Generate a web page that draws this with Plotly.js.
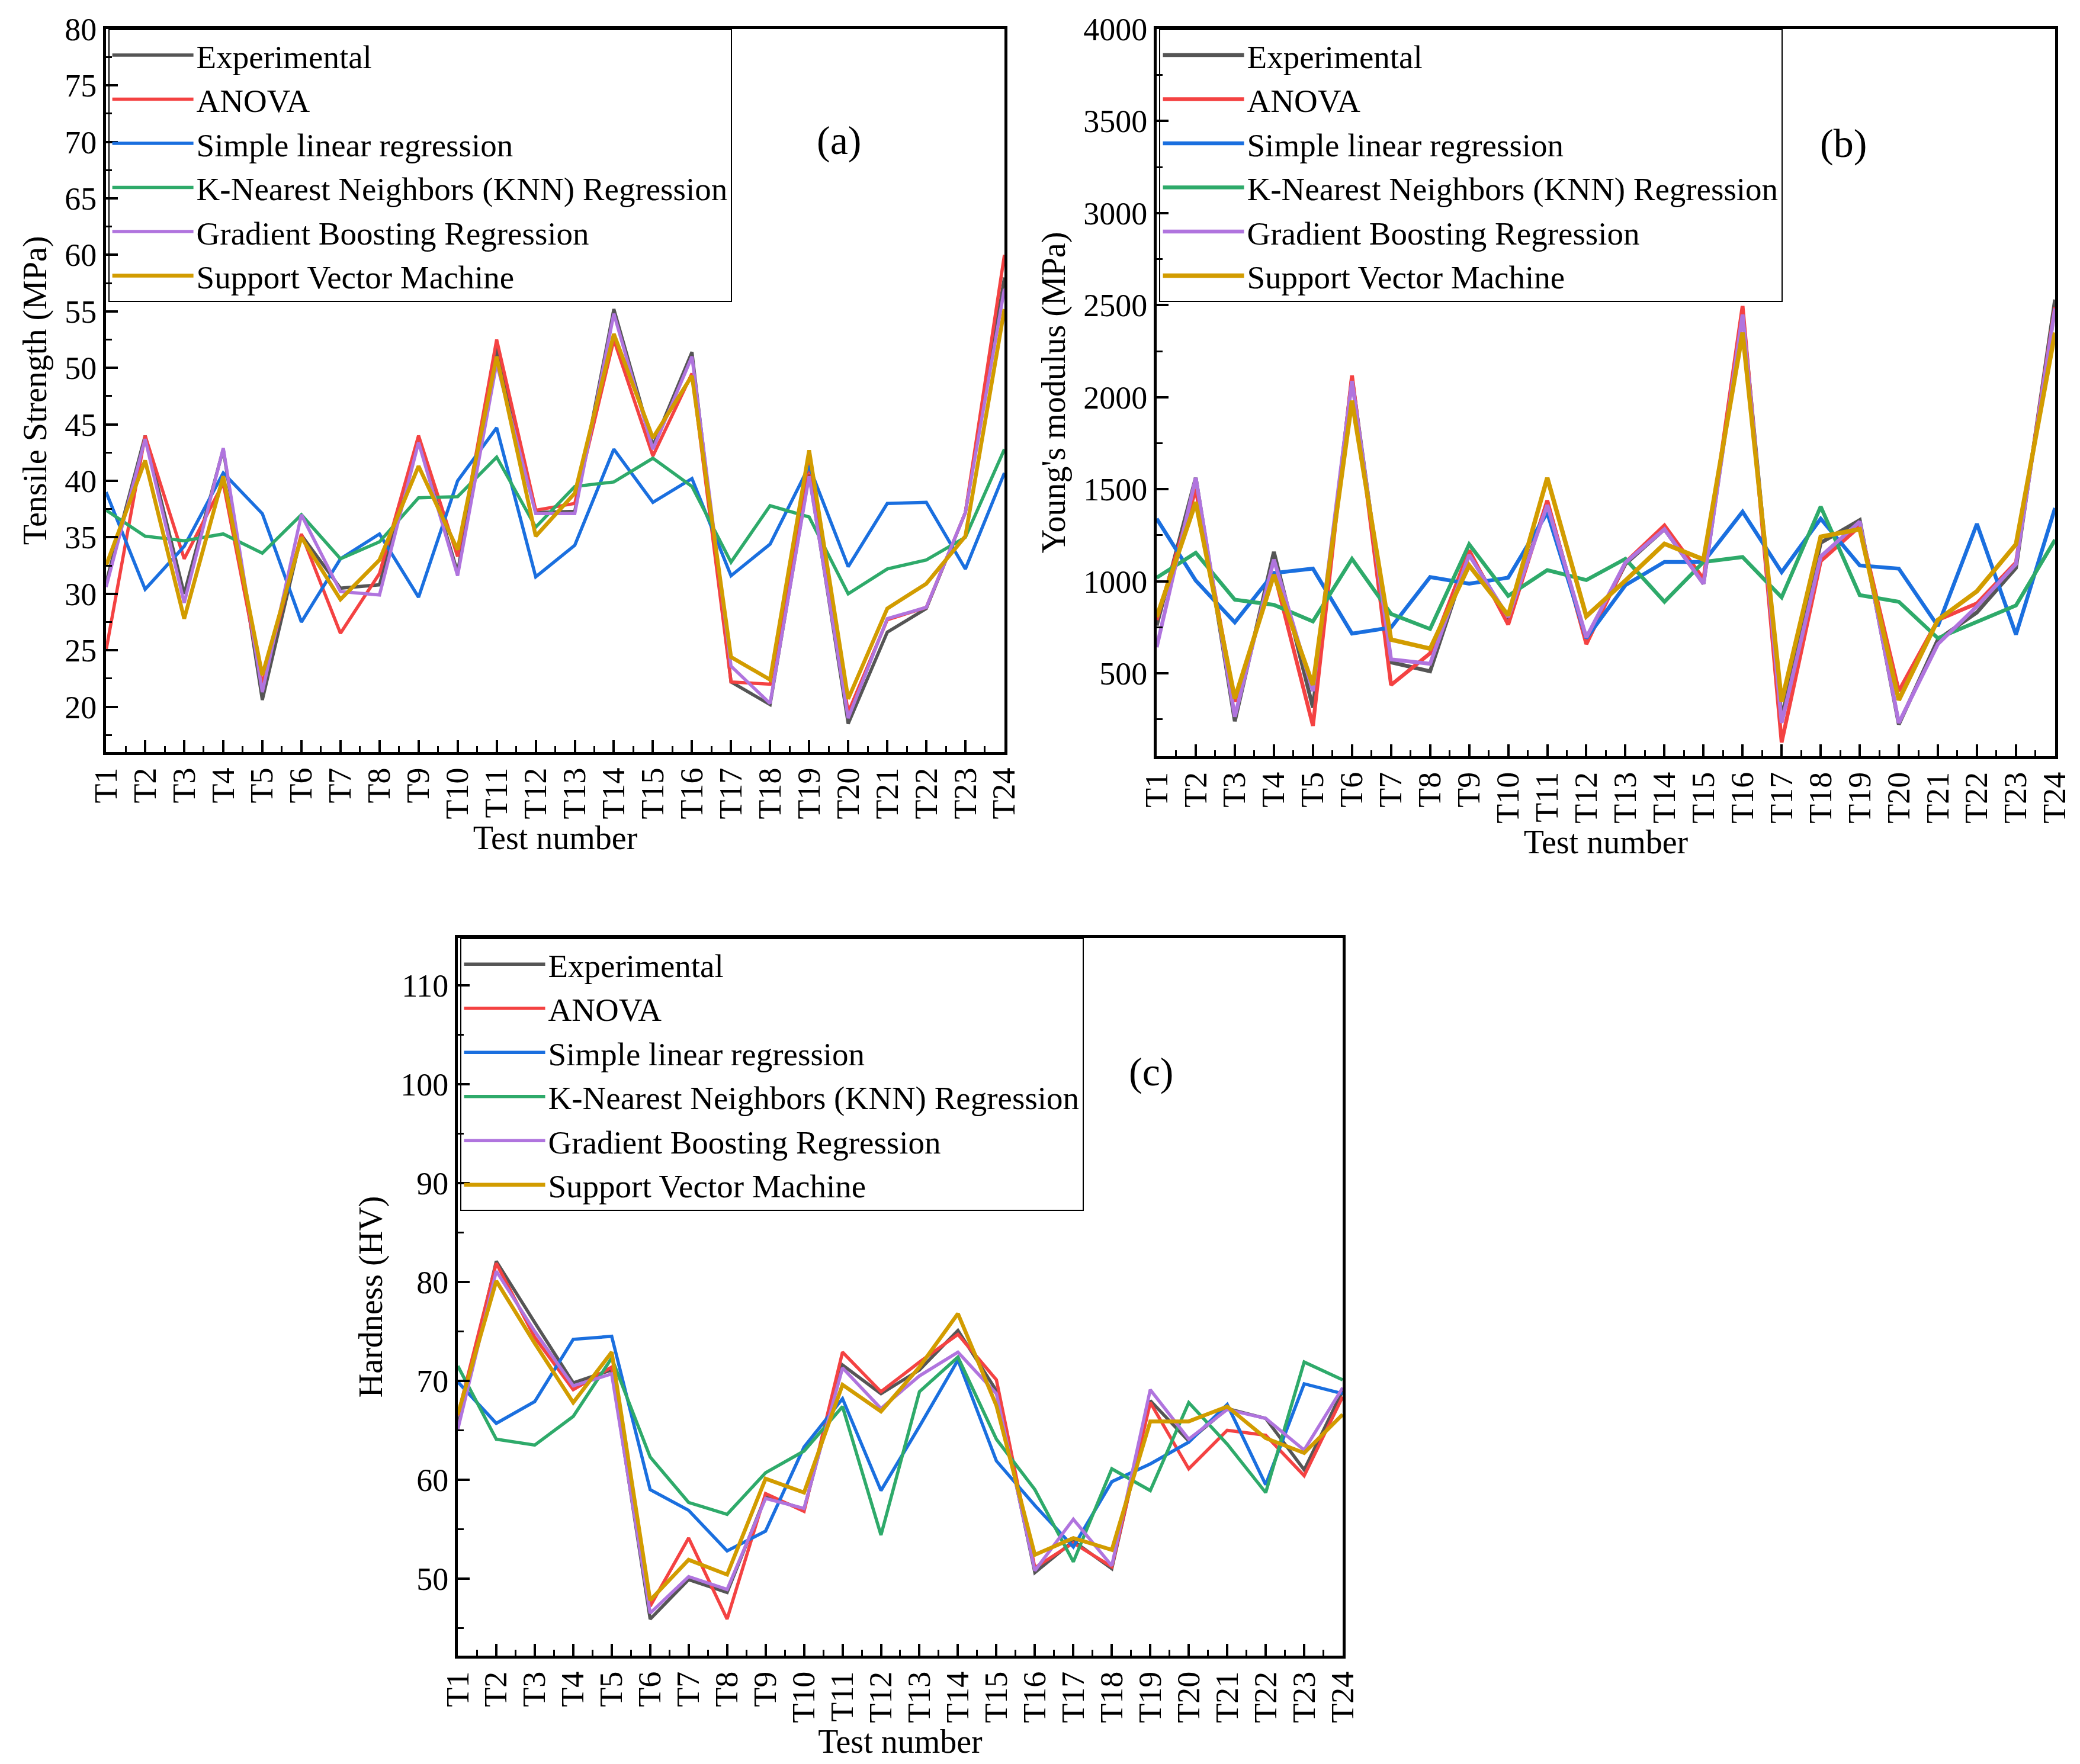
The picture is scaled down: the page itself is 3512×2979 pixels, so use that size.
<!DOCTYPE html>
<html>
<head>
<meta charset="utf-8">
<script src="https://cdn.plot.ly/plotly-3.0.1.min.js"></script>
<style>
  html, body { margin: 0; padding: 0; background: #fff; }
  #chart { width: 3512px; height: 2979px; }
</style>
</head>
<body>
<div id="chart"></div>
<script>
// test labels T1..T24
var tests = ['T1','T2','T3','T4','T5','T6','T7','T8','T9','T10','T11','T12',
             'T13','T14','T15','T16','T17','T18','T19','T20','T21','T22','T23','T24'];

var seriesNames = ['Experimental', 'ANOVA', 'Simple linear regression',
  'K-Nearest Neighbors (KNN) Regression', 'Gradient Boosting Regression', 'Support Vector Machine'];

// (a) tensile strength, MPa
var tsExp    = [31, 44, 30, 42.8, 20.6, 35.2, 30.5, 30.8, 43.5, 31.9, 51.8, 37.2, 37.3, 55.2, 43.1, 51.4, 22.2, 20.2, 40.6, 18.5, 26.6, 28.7, 37.2, 58];
var tsAnova  = [25, 44, 33.1, 39.8, 22, 35.3, 26.5, 31.8, 44, 33.3, 52.5, 37.4, 38, 52.5, 42.2, 49.5, 22.2, 22, 41.6, 19.5, 27.7, 28.8, 37.2, 60];
var tsLinear = [39, 30.4, 34.2, 40.7, 37.1, 27.5, 33.1, 35.3, 29.7, 40, 44.7, 31.5, 34.3, 42.8, 38.1, 40.2, 31.6, 34.4, 41.3, 32.4, 38, 38.1, 32.2, 40.7];
var tsKnn    = [37.4, 35.1, 34.7, 35.3, 33.6, 37, 33.1, 34.6, 38.5, 38.6, 42.1, 35.9, 39.5, 39.9, 42, 39.5, 32.8, 37.8, 36.8, 30, 32.2, 33, 35, 42.8];
var tsGbr    = [30.6, 43.7, 29.2, 42.9, 21.3, 37, 30.2, 29.9, 43.4, 31.6, 50.4, 37.1, 37.1, 54.8, 42.8, 51, 23.6, 20.3, 40.4, 19, 27.8, 28.8, 37.2, 57];
var tsSvm    = [32.5, 41.8, 27.8, 40.4, 22.8, 35, 29.5, 33, 41.3, 33.9, 51, 35.1, 38.9, 53, 43.8, 49.3, 24.4, 22.4, 42.7, 20.7, 28.7, 30.9, 35.1, 55.2];

// (b) Young's modulus, MPa
var ymExp    = [760, 1562, 240, 1160, 314, 2104, 560, 511, 1151, 798, 1431, 675, 1094, 1283, 987, 2466, 256, 1209, 1332, 223, 683, 831, 1073, 2530];
var ymAnova  = [790, 1500, 346, 1053, 215, 2118, 437, 609, 1168, 765, 1439, 659, 1102, 1303, 1012, 2495, 125, 1110, 1299, 404, 790, 880, 1102, 2490];
var ymLinear = [1340, 1004, 777, 1045, 1069, 716, 749, 1023, 987, 1020, 1373, 691, 979, 1105, 1105, 1378, 1050, 1340, 1086, 1069, 757, 1312, 711, 1398];
var ymKnn    = [1020, 1155, 900, 872, 782, 1122, 823, 741, 1201, 921, 1061, 1007, 1122, 889, 1105, 1132, 913, 1406, 925, 889, 691, 782, 869, 1225];
var ymGbr    = [642, 1562, 264, 1118, 404, 2088, 576, 552, 1143, 806, 1414, 695, 1102, 1283, 987, 2449, 231, 1135, 1324, 231, 659, 864, 1094, 2482];
var ymSvm    = [806, 1430, 363, 1036, 437, 1981, 683, 634, 1086, 815, 1562, 810, 1004, 1204, 1119, 2351, 346, 1242, 1283, 355, 790, 946, 1201, 2351];

// (c) hardness, HV
var hvExp    = [65.5, 82.1, 75.9, 69.8, 71.1, 45.9, 49.9, 48.6, 58.3, 57, 71.6, 68.7, 71.1, 75.1, 69, 50.6, 53.8, 51, 68, 63.9, 67.2, 66.2, 61, 69];
var hvAnova  = [66.5, 81.9, 74.4, 69.1, 71.4, 47.2, 54.1, 45.9, 58.6, 56.8, 72.9, 68.9, 71.9, 74.7, 70.1, 51.1, 53.6, 51.2, 67.8, 61.1, 65, 64.5, 60.4, 68.4];
var hvLinear = [69.9, 65.7, 67.9, 74.2, 74.5, 59, 56.9, 52.8, 54.8, 63.3, 68.2, 58.9, 65.4, 72.1, 61.9, 57.4, 53.2, 59.8, 61.6, 63.8, 67.6, 59.5, 69.7, 68.7];
var hvKnn    = [71.5, 64.1, 63.5, 66.4, 72.3, 62.3, 57.7, 56.5, 60.7, 62.9, 67.4, 54.4, 68.9, 72.4, 64.1, 59, 51.7, 61.1, 58.9, 67.8, 63.6, 58.7, 71.9, 70.1];
var hvGbr    = [65.1, 81.1, 75, 69.5, 70.7, 46.5, 50.2, 48.9, 58.1, 57.1, 71.3, 67.2, 70.5, 72.9, 68.7, 50.8, 56, 51.3, 69.1, 64.1, 67.1, 66.2, 63, 69.3];
var hvSvm    = [66.6, 80.1, 73.8, 67.8, 72.9, 47.8, 51.9, 50.4, 60.1, 58.7, 69.6, 66.9, 71.4, 76.8, 67.5, 52.4, 54.1, 52.9, 65.9, 65.9, 67.4, 64.2, 62.7, 66.6];

var colors = ['rgb(85,85,85)', 'rgb(244,66,66)', 'rgb(26,111,223)',
              'rgb(46,170,106)', 'rgb(176,116,222)', 'rgb(210,156,0)'];

var FONT = 'Liberation Serif, Times New Roman, serif';

// numeric positions for the test labels (1..24), shown as T1..T24
var xs = tests.map(function (t) { return parseInt(t.slice(1), 10); });

function panelTraces(sets, xa, ya, legendId, width) {
  return sets.map(function (ys, i) {
    return {
      x: xs, y: ys, type: 'scatter', mode: 'lines',
      name: seriesNames[i], xaxis: xa, yaxis: ya, legend: legendId,
      line: { color: colors[i], width: i === 5 ? width + 1 : width }
    };
  });
}

var data = []
  .concat(panelTraces([tsExp, tsAnova, tsLinear, tsKnn, tsGbr, tsSvm], 'x', 'y', 'legend', 5.5))
  .concat(panelTraces([ymExp, ymAnova, ymLinear, ymKnn, ymGbr, ymSvm], 'x2', 'y2', 'legend2', 6.5))
  .concat(panelTraces([hvExp, hvAnova, hvLinear, hvKnn, hvGbr, hvSvm], 'x3', 'y3', 'legend3', 5.5));

function xAxis(domain, anchor) {
  return {
    domain: domain, anchor: anchor, range: [1, 24],
    tickmode: 'linear', tick0: 1, dtick: 1, tickprefix: 'T', tickangle: -90,
    ticks: 'inside', ticklen: 20, tickwidth: 4, tickcolor: 'black',
    minor: { dtick: 0.5, tick0: 1, ticks: 'inside', ticklen: 10, tickwidth: 3, tickcolor: 'black' },
    showline: true, linewidth: 5, linecolor: 'black', mirror: true,
    showgrid: false, zeroline: false,
    tickfont: { family: FONT, size: 54, color: 'black' },
    title: { text: 'Test number', font: { family: FONT, size: 56, color: 'black' }, standoff: 6 }
  };
}

function yAxis(domain, anchor, range, dtick, title) {
  return {
    domain: domain, anchor: anchor, range: range,
    dtick: dtick, tick0: 0,
    ticks: 'inside', ticklen: 20, tickwidth: 4, tickcolor: 'black',
    minor: { dtick: dtick / 2, ticks: 'inside', ticklen: 10, tickwidth: 3, tickcolor: 'black' },
    showline: true, linewidth: 5, linecolor: 'black', mirror: true,
    showgrid: false, zeroline: false,
    tickfont: { family: FONT, size: 54, color: 'black' },
    title: { text: title, font: { family: FONT, size: 56, color: 'black' }, standoff: 14 }
  };
}

function legendAt(x, y) {
  return {
    x: x, y: y, xanchor: 'left', yanchor: 'top',
    bgcolor: 'rgba(255,255,255,0)', bordercolor: 'black', borderwidth: 2,
    font: { family: FONT, size: 55, color: 'black' },
    itemwidth: 137, tracegroupgap: 0
  };
}

var dA = { x: [0.0510, 0.4829], y: [0.5737, 0.9836] };
var dB = { x: [0.5561, 0.9880], y: [0.5713, 0.9836] };
var dC = { x: [0.2201, 0.6455], y: [0.0614, 0.4683] };

var layout = {
  width: 3512, height: 2979,
  margin: { l: 0, r: 0, t: 0, b: 0 },
  paper_bgcolor: 'white', plot_bgcolor: 'white',
  showlegend: true,
  xaxis: xAxis(dA.x, 'y'),
  yaxis: yAxis(dA.y, 'x', [16, 80], 5, 'Tensile Strength (MPa)'),
  xaxis2: xAxis(dB.x, 'y2'),
  yaxis2: yAxis(dB.y, 'x2', [50, 4000], 500, "Young's modulus (MPa)"),
  xaxis3: xAxis(dC.x, 'y3'),
  yaxis3: yAxis(dC.y, 'x3', [42.2, 114.8], 10, 'Hardness (HV)'),
  legend: legendAt(dA.x[0] + 0.001, dA.y[1]),
  legend2: legendAt(dB.x[0] + 0.001, dB.y[1]),
  legend3: legendAt(dC.x[0] + 0.001, dC.y[1]),
  annotations: [
    { text: '(a)', x: 0.4032, y: 0.9339, xref: 'paper', yref: 'paper', showarrow: false, font: { family: FONT, size: 68, color: 'black' } },
    { text: '(b)', x: 0.8980, y: 0.9322, xref: 'paper', yref: 'paper', showarrow: false, font: { family: FONT, size: 68, color: 'black' } },
    { text: '(c)', x: 0.5535, y: 0.3924, xref: 'paper', yref: 'paper', showarrow: false, font: { family: FONT, size: 68, color: 'black' } }
  ]
};

Plotly.newPlot('chart', data, layout, { staticPlot: true });
</script>
</body>
</html>
